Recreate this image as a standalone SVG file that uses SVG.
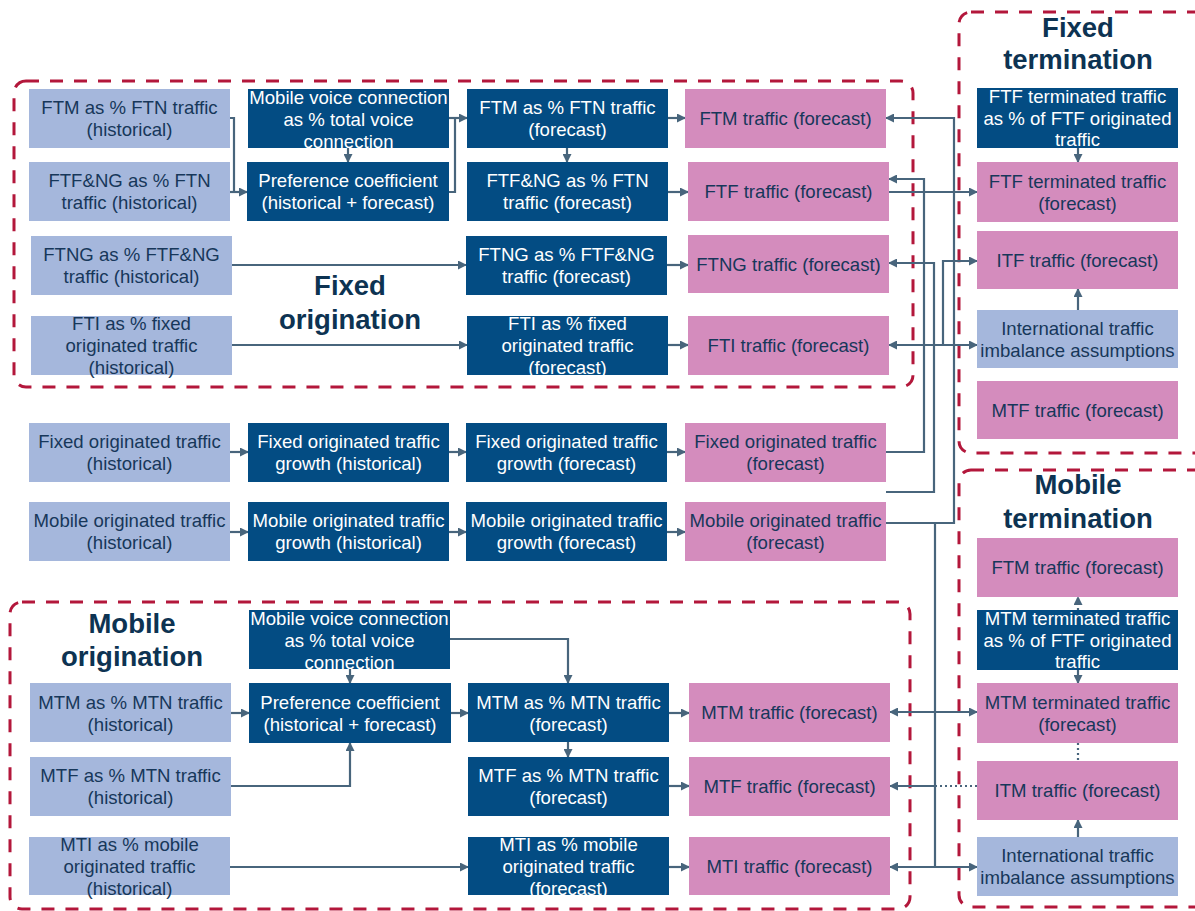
<svg xmlns="http://www.w3.org/2000/svg" width="1195" height="911" viewBox="0 0 1195 911">
<defs>
<marker id="ah" markerUnits="userSpaceOnUse" markerWidth="9" markerHeight="9" refX="8" refY="4.5" orient="auto"><path d="M0,0 L9,4.5 L0,9 z" fill="#48657c"/></marker>
<style>
.lb{fill:#a5b7dc}
.db{fill:#034c83}
.pk{fill:#d48cbd}
text{font-family:"Liberation Sans",Arial,sans-serif;font-size:18.6px;text-anchor:middle}
.tw{fill:#ffffff}
.tn{fill:#17375a}
.ttl{font-weight:bold;font-size:27.5px;fill:#0d3352}
.grp{fill:none;stroke:#b3173b;stroke-width:3;stroke-dasharray:13 11}
.c{fill:none;stroke:#48657c;stroke-width:2.2}
.a{marker-end:url(#ah)}
.d{stroke-dasharray:2 3}
</style>
</defs>
<rect width="1195" height="911" fill="#ffffff"/>
<g id="groups">
<rect class="grp" x="14" y="81" width="899" height="306" rx="12"/>
<rect class="grp" x="10" y="602" width="900" height="307" rx="12"/>
<rect class="grp" x="959" y="12" width="250" height="441" rx="12"/>
<rect class="grp" x="959" y="470" width="250" height="437" rx="12"/>
<text class="ttl" x="350" y="295">Fixed</text>
<text class="ttl" x="350" y="329">origination</text>
<text class="ttl" x="132" y="633">Mobile</text>
<text class="ttl" x="132" y="666">origination</text>
<text class="ttl" x="1078" y="37">Fixed</text>
<text class="ttl" x="1078" y="69">termination</text>
<text class="ttl" x="1078" y="494">Mobile</text>
<text class="ttl" x="1078" y="528">termination</text>
</g>
<g id="connectors">
<path class="c" d="M230,118 H234 V192"/>
<path class="c a" d="M230,192 H247"/>
<path class="c a" d="M348,148 V162"/>
<path class="c a" d="M449,118 H467"/>
<path class="c" d="M449,192 H455 V118"/>
<path class="c a" d="M567,148 V162"/>
<path class="c a" d="M668,118 H685"/>
<path class="c a" d="M668,192 H688"/>
<path class="c a" d="M232,265 H466"/>
<path class="c a" d="M667,265 H688"/>
<path class="c a" d="M232,345 H467"/>
<path class="c a" d="M668,345 H688"/>
<path class="c a" d="M230,452 H248"/>
<path class="c a" d="M449,452 H466"/>
<path class="c a" d="M667,452 H685"/>
<path class="c a" d="M230,532 H248"/>
<path class="c a" d="M449,532 H466"/>
<path class="c a" d="M667,532 H685"/>
<path class="c a" d="M886,452 H924 V179 H889"/>
<path class="c a" d="M886,492 H934 V263 H889"/>
<path class="c a" d="M886,523 H954 V118 H886"/>
<path class="c a" d="M889,192 H977"/>
<path class="c a" d="M943,345 V261 H977"/>
<path class="c a" d="M943,345 H889"/>
<path class="c a" d="M943,345 H977"/>
<path class="c" d="M935,523 V867"/>
<path class="c a" d="M935,712 H890"/>
<path class="c a" d="M935,712 H977"/>
<path class="c a" d="M935,786 H890"/>
<path class="c d" d="M935,786 H977"/>
<path class="c a" d="M935,867 H890"/>
<path class="c a" d="M935,867 H977"/>
<path class="c a" d="M231,713 H249"/>
<path class="c a" d="M350,669 V683"/>
<path class="c a" d="M231,786 H350 V743"/>
<path class="c a" d="M230,867 H468"/>
<path class="c a" d="M450,639 H568 V683"/>
<path class="c a" d="M451,713 H468"/>
<path class="c a" d="M568,742 V757"/>
<path class="c a" d="M669,713 H689"/>
<path class="c a" d="M669,786 H689"/>
<path class="c a" d="M669,867 H689"/>
<path class="c a" d="M1078,148 V162"/>
<path class="c a" d="M1078,310 V289"/>
<path class="c a d" d="M1078,610 V597"/>
<path class="c a" d="M1078,670 V683"/>
<path class="c d" d="M1078,743 V761"/>
<path class="c a" d="M1078,837 V820"/>
</g>
<g id="n1"><rect class="lb" x="29" y="89" width="201" height="59"/><text class="tn" x="129.5" y="114">FTM as % FTN traffic<tspan x="129.5" dy="22">(historical)</tspan></text></g>
<g id="n2"><rect class="lb" x="29" y="162" width="201" height="59"/><text class="tn" x="129.5" y="187">FTF&amp;NG as % FTN<tspan x="129.5" dy="22">traffic (historical)</tspan></text></g>
<g id="n3"><rect class="lb" x="31" y="236" width="201" height="59"/><text class="tn" x="131.5" y="261">FTNG as % FTF&amp;NG<tspan x="131.5" dy="22">traffic (historical)</tspan></text></g>
<g id="n4"><rect class="lb" x="31" y="316" width="201" height="59"/><text class="tn" x="131.5" y="330">FTI as % fixed<tspan x="131.5" dy="22">originated traffic</tspan><tspan x="131.5" dy="22">(historical)</tspan></text></g>
<g id="n5"><rect class="db" x="248" y="89" width="201" height="59"/><text class="tw" x="348.5" y="103.5">Mobile voice connection<tspan x="348.5" dy="22">as % total voice</tspan><tspan x="348.5" dy="22">connection</tspan></text></g>
<g id="n6"><rect class="db" x="247" y="162" width="202" height="59"/><text class="tw" x="348" y="187">Preference coefficient<tspan x="348" dy="22">(historical + forecast)</tspan></text></g>
<g id="n7"><rect class="db" x="467" y="89" width="201" height="59"/><text class="tw" x="567.5" y="114">FTM as % FTN traffic<tspan x="567.5" dy="22">(forecast)</tspan></text></g>
<g id="n8"><rect class="db" x="467" y="162" width="201" height="59"/><text class="tw" x="567.5" y="187">FTF&amp;NG as % FTN<tspan x="567.5" dy="22">traffic (forecast)</tspan></text></g>
<g id="n9"><rect class="db" x="466" y="236" width="201" height="59"/><text class="tw" x="566.5" y="261">FTNG as % FTF&amp;NG<tspan x="566.5" dy="22">traffic (forecast)</tspan></text></g>
<g id="n10"><rect class="db" x="467" y="316" width="201" height="59"/><text class="tw" x="567.5" y="330">FTI as % fixed<tspan x="567.5" dy="22">originated traffic</tspan><tspan x="567.5" dy="22">(forecast)</tspan></text></g>
<g id="n11"><rect class="pk" x="685" y="89" width="201" height="59"/><text class="tn" x="785.5" y="125">FTM traffic (forecast)</text></g>
<g id="n12"><rect class="pk" x="688" y="162" width="201" height="59"/><text class="tn" x="788.5" y="198">FTF traffic (forecast)</text></g>
<g id="n13"><rect class="pk" x="688" y="235" width="201" height="58"/><text class="tn" x="788.5" y="271">FTNG traffic (forecast)</text></g>
<g id="n14"><rect class="pk" x="688" y="316" width="201" height="59"/><text class="tn" x="788.5" y="352">FTI traffic (forecast)</text></g>
<g id="n15"><rect class="lb" x="29" y="423" width="201" height="59"/><text class="tn" x="129.5" y="448">Fixed originated traffic<tspan x="129.5" dy="22">(historical)</tspan></text></g>
<g id="n16"><rect class="db" x="248" y="423" width="201" height="59"/><text class="tw" x="348.5" y="448">Fixed originated traffic<tspan x="348.5" dy="22">growth (historical)</tspan></text></g>
<g id="n17"><rect class="db" x="466" y="423" width="201" height="59"/><text class="tw" x="566.5" y="448">Fixed originated traffic<tspan x="566.5" dy="22">growth (forecast)</tspan></text></g>
<g id="n18"><rect class="pk" x="685" y="423" width="201" height="59"/><text class="tn" x="785.5" y="448">Fixed originated traffic<tspan x="785.5" dy="22">(forecast)</tspan></text></g>
<g id="n19"><rect class="lb" x="29" y="502" width="201" height="59"/><text class="tn" x="129.5" y="527">Mobile originated traffic<tspan x="129.5" dy="22">(historical)</tspan></text></g>
<g id="n20"><rect class="db" x="248" y="502" width="201" height="59"/><text class="tw" x="348.5" y="527">Mobile originated traffic<tspan x="348.5" dy="22">growth (historical)</tspan></text></g>
<g id="n21"><rect class="db" x="466" y="502" width="201" height="59"/><text class="tw" x="566.5" y="527">Mobile originated traffic<tspan x="566.5" dy="22">growth (forecast)</tspan></text></g>
<g id="n22"><rect class="pk" x="685" y="502" width="201" height="59"/><text class="tn" x="785.5" y="527">Mobile originated traffic<tspan x="785.5" dy="22">(forecast)</tspan></text></g>
<g id="n23"><rect class="db" x="249" y="610" width="201" height="59"/><text class="tw" x="349.5" y="624.5">Mobile voice connection<tspan x="349.5" dy="22">as % total voice</tspan><tspan x="349.5" dy="22">connection</tspan></text></g>
<g id="n24"><rect class="db" x="249" y="683" width="202" height="60"/><text class="tw" x="350" y="708.5">Preference coefficient<tspan x="350" dy="22">(historical + forecast)</tspan></text></g>
<g id="n25"><rect class="lb" x="30" y="683" width="201" height="59"/><text class="tn" x="130.5" y="708.5">MTM as % MTN traffic<tspan x="130.5" dy="22">(historical)</tspan></text></g>
<g id="n26"><rect class="lb" x="30" y="757" width="201" height="59"/><text class="tn" x="130.5" y="782">MTF as % MTN traffic<tspan x="130.5" dy="22">(historical)</tspan></text></g>
<g id="n27"><rect class="lb" x="29" y="837" width="201" height="58"/><text class="tn" x="129.5" y="851">MTI as % mobile<tspan x="129.5" dy="22">originated traffic</tspan><tspan x="129.5" dy="22">(historical)</tspan></text></g>
<g id="n28"><rect class="db" x="468" y="683" width="201" height="59"/><text class="tw" x="568.5" y="708.5">MTM as % MTN traffic<tspan x="568.5" dy="22">(forecast)</tspan></text></g>
<g id="n29"><rect class="db" x="468" y="757" width="201" height="59"/><text class="tw" x="568.5" y="782">MTF as % MTN traffic<tspan x="568.5" dy="22">(forecast)</tspan></text></g>
<g id="n30"><rect class="db" x="468" y="837" width="201" height="58"/><text class="tw" x="568.5" y="851">MTI as % mobile<tspan x="568.5" dy="22">originated traffic</tspan><tspan x="568.5" dy="22">(forecast)</tspan></text></g>
<g id="n31"><rect class="pk" x="689" y="683" width="201" height="59"/><text class="tn" x="789.5" y="719">MTM traffic (forecast)</text></g>
<g id="n32"><rect class="pk" x="689" y="757" width="201" height="59"/><text class="tn" x="789.5" y="793">MTF traffic (forecast)</text></g>
<g id="n33"><rect class="pk" x="689" y="837" width="201" height="58"/><text class="tn" x="789.5" y="873">MTI traffic (forecast)</text></g>
<g id="n34"><rect class="db" x="977" y="88" width="201" height="60"/><text class="tw" x="1077.5" y="103">FTF terminated traffic<tspan x="1077.5" dy="21.5">as % of FTF originated</tspan><tspan x="1077.5" dy="21.5">traffic</tspan></text></g>
<g id="n35"><rect class="pk" x="977" y="162" width="201" height="60"/><text class="tn" x="1077.5" y="187.5">FTF terminated traffic<tspan x="1077.5" dy="22">(forecast)</tspan></text></g>
<g id="n36"><rect class="pk" x="977" y="231" width="201" height="58"/><text class="tn" x="1077.5" y="267">ITF traffic (forecast)</text></g>
<g id="n37"><rect class="lb" x="977" y="310" width="201" height="58"/><text class="tn" x="1077.5" y="335">International traffic<tspan x="1077.5" dy="22">imbalance assumptions</tspan></text></g>
<g id="n38"><rect class="pk" x="977" y="381" width="201" height="58"/><text class="tn" x="1077.5" y="417">MTF traffic (forecast)</text></g>
<g id="n39"><rect class="pk" x="977" y="538" width="201" height="59"/><text class="tn" x="1077.5" y="574">FTM traffic (forecast)</text></g>
<g id="n40"><rect class="db" x="977" y="610" width="201" height="60"/><text class="tw" x="1077.5" y="625">MTM terminated traffic<tspan x="1077.5" dy="21.5">as % of FTF originated</tspan><tspan x="1077.5" dy="21.5">traffic</tspan></text></g>
<g id="n41"><rect class="pk" x="977" y="683" width="201" height="60"/><text class="tn" x="1077.5" y="708.5">MTM terminated traffic<tspan x="1077.5" dy="22">(forecast)</tspan></text></g>
<g id="n42"><rect class="pk" x="977" y="761" width="201" height="59"/><text class="tn" x="1077.5" y="797">ITM traffic (forecast)</text></g>
<g id="n43"><rect class="lb" x="977" y="837" width="201" height="59"/><text class="tn" x="1077.5" y="862">International traffic<tspan x="1077.5" dy="22">imbalance assumptions</tspan></text></g>
</svg>
